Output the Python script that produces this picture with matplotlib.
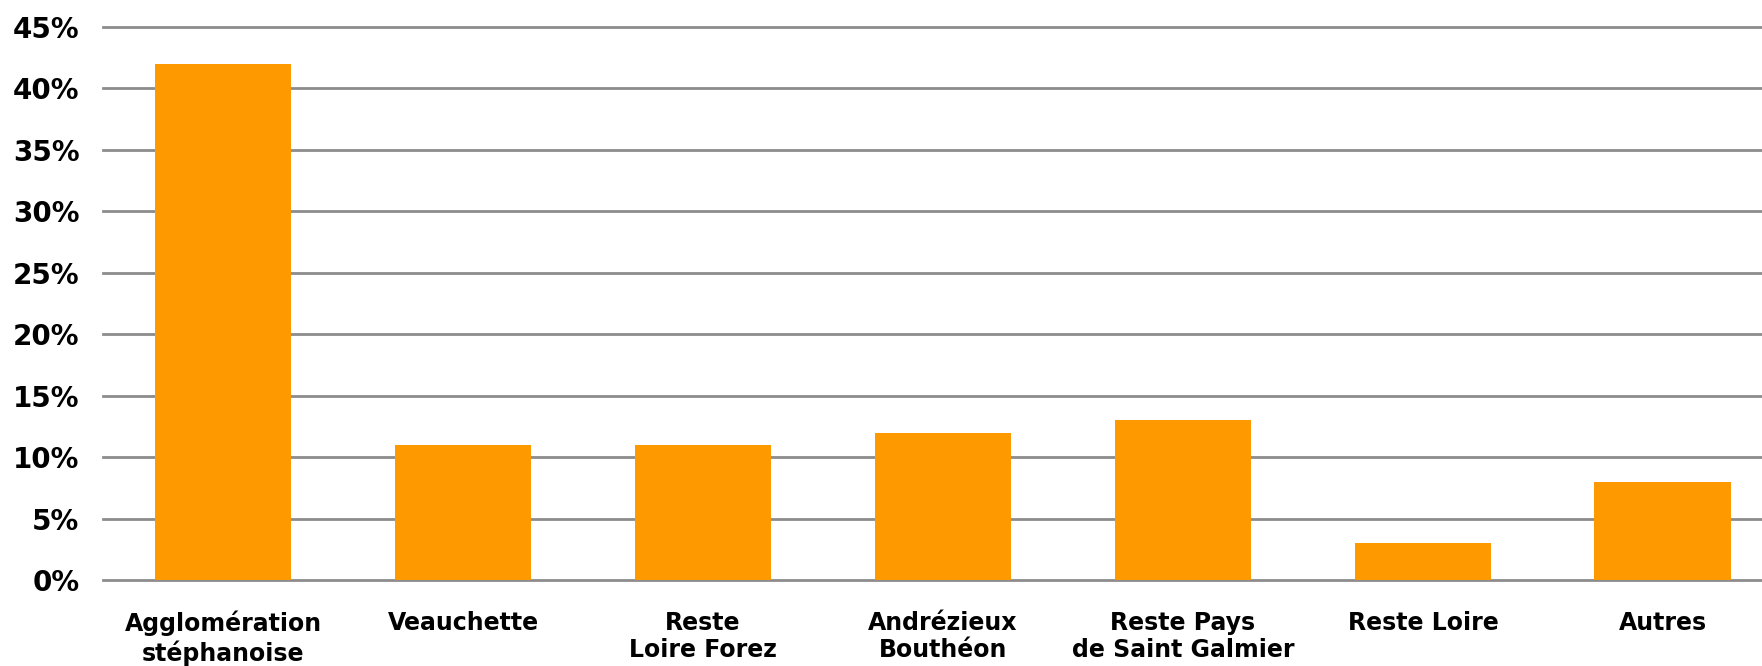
import matplotlib
matplotlib.use("Agg")
import matplotlib.pyplot as plt
from matplotlib.ticker import FuncFormatter

# Data
CATEGORIES = [
    "Agglomération\nstéphanoise",
    "Veauchette",
    "Reste\nLoire Forez",
    "Andrézieux\nBouthéon",
    "Reste Pays\nde Saint Galmier",
    "Reste Loire",
    "Autres",
]
VALUES = [42, 11, 11, 12, 13, 3, 8]
Y_TICKS = [0, 5, 10, 15, 20, 25, 30, 35, 40, 45]

BAR_COLOR = "#FF9900"
GRID_COLOR = "#8C8C8C"


def main():
    fig = plt.figure(figsize=(17.62, 6.66), dpi=100)
    ax = fig.add_axes([0.0585, 0.1291, 0.9415, 0.8304])

    x = range(len(CATEGORIES))
    ax.bar(x, VALUES, width=0.57, color=BAR_COLOR, zorder=3)

    ax.set_xlim(-0.5, 6.413)
    ax.set_ylim(0, 45)
    ax.set_yticks(Y_TICKS)
    ax.yaxis.set_major_formatter(FuncFormatter(lambda v, _: f"{v:.0f}%"))
    ax.set_xticks(list(x))
    ax.set_xticklabels(CATEGORIES, linespacing=1.2)

    ax.yaxis.grid(True, color=GRID_COLOR, linewidth=2, zorder=0)
    ax.set_axisbelow(True)
    for gl in ax.yaxis.get_gridlines():
        gl.set_clip_on(False)
    for s in ax.spines.values():
        s.set_visible(False)

    ax.tick_params(axis="y", length=0, pad=17, labelsize=20)
    ax.tick_params(axis="x", length=0, pad=22, labelsize=17)
    for lbl in ax.get_xticklabels() + ax.get_yticklabels():
        lbl.set_fontweight("bold")

    fig.savefig("out.png", facecolor="white")
    plt.close(fig)


if __name__ == "__main__":
    main()
